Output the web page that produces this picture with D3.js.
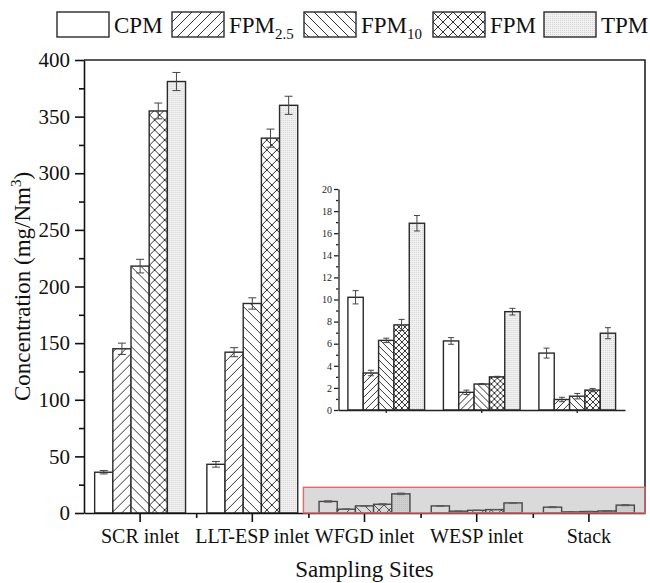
<!DOCTYPE html>
<html>
<head>
<meta charset="utf-8">
<script src="https://cdn.jsdelivr.net/npm/d3@7"></script>
<style>
  body { margin: 0; background: #fff; }
  svg text { font-family: "Liberation Serif", "Times New Roman", serif; }
</style>
</head>
<body>
<svg id="chart" width="650" height="583"></svg>
<script>
// data
const sites = ['SCR inlet', 'LLT-ESP inlet', 'WFGD inlet', 'WESP inlet', 'Stack'];
const series = ['CPM', 'FPM2.5', 'FPM10', 'FPM', 'TPM'];
const cpm   = [36, 43, 10.2, 6.25, 5.15];
const fpm25 = [145, 142, 3.35, 1.6, 0.95];
const fpm10 = [218, 185, 6.3, 2.35, 1.25];
const fpm   = [355, 331, 7.7, 3.0, 1.8];
const tpm   = [381, 360, 16.9, 8.9, 6.95];
const cpmErr   = [1.5, 2.5, 0.6, 0.3, 0.45];
const fpm25Err = [5, 4, 0.25, 0.2, 0.2];
const fpm10Err = [6, 5, 0.2, 0.05, 0.25];
const fpmErr   = [7, 8, 0.5, 0.05, 0.15];
const tpmErr   = [8, 8, 0.7, 0.3, 0.5];
const mainTicks = [0, 50, 100, 150, 200, 250, 300, 350, 400];
const insetTicks = [0, 2, 4, 6, 8, 10, 12, 14, 16, 18, 20];
const insetSites = sites.slice(2);

const values = [cpm, fpm25, fpm10, fpm, tpm];
const errors = [cpmErr, fpm25Err, fpm10Err, fpmErr, tpmErr];
const rows = sites.map((s, i) => ({
  site: s,
  bars: series.map((k, j) => ({ key: k, v: values[j][i], e: errors[j][i] }))
}));

const svg = d3.select('#chart');
const defs = svg.append('defs');

// fill patterns
function hatch(id, size, kinds) {
  const p = defs.append('pattern').attr('id', id)
    .attr('patternUnits', 'userSpaceOnUse')
    .attr('width', size).attr('height', size);
  p.append('rect').attr('width', size).attr('height', size).attr('fill', '#fff');
  const s = size;
  if (kinds.includes('f')) {
    p.append('path').attr('d', `M${-s/4},${s/4} l${s/2},${-s/2} M0,${s} l${s},${-s} M${s*0.75},${s*1.25} l${s/2},${-s/2}`)
      .attr('stroke', '#333').attr('stroke-width', 1);
  }
  if (kinds.includes('b')) {
    p.append('path').attr('d', `M${-s/4},${s*0.75} l${s/2},${s/2} M0,0 l${s},${s} M${s*0.75},${-s/4} l${s/2},${s/2}`)
      .attr('stroke', '#333').attr('stroke-width', 1);
  }
}
hatch('fwd', 10, 'f'); hatch('back', 10, 'b'); hatch('cross', 10, 'fb');
hatch('fwdS', 7, 'f'); hatch('backS', 7, 'b'); hatch('crossS', 6, 'fb');
const dots = defs.append('pattern').attr('id', 'dots')
  .attr('patternUnits', 'userSpaceOnUse').attr('width', 2).attr('height', 2);
dots.append('rect').attr('width', 2).attr('height', 2).attr('fill', '#f1f1f1');
dots.append('rect').attr('width', 1).attr('height', 1).attr('fill', '#d4d4d4');

const fillBig = { 'CPM': '#fff', 'FPM2.5': 'url(#fwd)', 'FPM10': 'url(#back)', 'FPM': 'url(#cross)', 'TPM': 'url(#dots)' };
const fillSmall = { 'CPM': '#fff', 'FPM2.5': 'url(#fwdS)', 'FPM10': 'url(#backS)', 'FPM': 'url(#crossS)', 'TPM': 'url(#dots)' };

// ---------- main chart ----------
const mL = 84, mR = 645, mT = 60, mB = 513;
const x0 = d3.scaleBand().domain(sites).range([mL, mR]).paddingInner(0.19).paddingOuter(0.095);
const x1 = d3.scaleBand().domain(series).range([0, x0.bandwidth()]);
const y = d3.scaleLinear().domain([0, 400]).range([mB, mT]);

function drawBars(g, data, xs, xb, ys, fills, cap) {
  const grp = g.selectAll('g.site').data(data).join('g')
    .attr('class', 'site')
    .attr('transform', d => `translate(${xs(d.site)},0)`);
  grp.selectAll('rect').data(d => d.bars).join('rect')
    .attr('x', d => xb(d.key))
    .attr('y', d => ys(d.v))
    .attr('width', xb.bandwidth())
    .attr('height', d => ys(0) - ys(d.v))
    .attr('fill', d => fills[d.key])
    .attr('stroke', '#2a2a2a').attr('stroke-width', 1.4);
  const eb = grp.selectAll('g.err').data(d => d.bars.filter(b => b.e > 0)).join('g')
    .attr('class', 'err')
    .attr('stroke', '#444').attr('stroke-width', 1);
  const cx = d => xb(d.key) + xb.bandwidth() / 2;
  eb.append('line').attr('x1', cx).attr('x2', cx)
    .attr('y1', d => ys(d.v - d.e)).attr('y2', d => ys(d.v + d.e));
  eb.append('line').attr('x1', d => cx(d) - cap).attr('x2', d => cx(d) + cap)
    .attr('y1', d => ys(d.v + d.e)).attr('y2', d => ys(d.v + d.e));
  eb.append('line').attr('x1', d => cx(d) - cap).attr('x2', d => cx(d) + cap)
    .attr('y1', d => ys(d.v - d.e)).attr('y2', d => ys(d.v - d.e));
}

drawBars(svg.append('g'), rows, x0, x1, y, fillBig, 4);

// frame top & right
svg.append('path')
  .attr('d', `M${mL},${mT} H${mR} V${mB}`)
  .attr('fill', 'none').attr('stroke', '#222').attr('stroke-width', 1.6);

// y axis
const yAxisG = svg.append('g').attr('transform', `translate(${mL},0)`);
yAxisG.append('g')
  .call(d3.axisLeft(y).tickValues(d3.range(25, 400, 50)).tickSize(5).tickFormat(''))
  .call(g => g.select('.domain').remove());
yAxisG.append('g')
  .call(d3.axisLeft(y).tickValues(mainTicks).tickSize(9).tickSizeOuter(0).tickPadding(5))
  .call(g => g.selectAll('text').attr('font-size', 21).attr('fill', '#111'));
yAxisG.selectAll('line, path').attr('stroke', '#111').attr('stroke-width', 1.6);

// x axis
const xAxisG = svg.append('g').attr('transform', `translate(0,${mB})`);
const bounds = d3.range(1, sites.length).map(i => x0(sites[i]) - x0.step() * x0.paddingInner() / 2);
xAxisG.append('g')
  .call(d3.axisBottom(d3.scaleLinear().range([mL, mR]).domain([mL, mR]))
    .tickValues(bounds).tickSize(5).tickFormat(''))
  .call(g => g.select('.domain').remove());
xAxisG.append('g')
  .call(d3.axisBottom(x0).tickSize(9).tickSizeOuter(0).tickPadding(7))
  .call(g => g.selectAll('text').attr('font-size', 20).attr('fill', '#111'));
xAxisG.selectAll('line, path').attr('stroke', '#111').attr('stroke-width', 1.6);

// highlight box over the small bars
const boxX0 = bounds[1] - 5;
svg.append('rect')
  .attr('x', boxX0).attr('y', y(22.7))
  .attr('width', mR - boxX0).attr('height', y(0) - y(22.7))
  .attr('fill', 'rgba(140,140,140,0.32)')
  .attr('stroke', '#e26a6a').attr('stroke-width', 1.4);

// axis titles
svg.append('text')
  .attr('x', (mL + mR) / 2).attr('y', 577)
  .attr('text-anchor', 'middle').attr('font-size', 23).attr('fill', '#111')
  .text('Sampling Sites');
const yt = svg.append('text')
  .attr('transform', `translate(30,${(mT + mB) / 2}) rotate(-90)`)
  .attr('text-anchor', 'middle').attr('font-size', 23).attr('fill', '#111');
yt.append('tspan').text('Concentration (mg/Nm');
yt.append('tspan').attr('font-size', 15).attr('dy', -9).text('3');
yt.append('tspan').attr('dy', 9).text(')');

// ---------- inset ----------
const iL = 338.5, iR = 625, iT = 189, iB = 410;
const ix0 = d3.scaleBand().domain(insetSites).range([iL, iR]).paddingInner(0.197).paddingOuter(0.0985);
const ix1 = d3.scaleBand().domain(series).range([0, ix0.bandwidth()]);
const iy = d3.scaleLinear().domain([0, 20]).range([iB, iT]);

const inset = svg.append('g');
drawBars(inset, rows.slice(2), ix0, ix1, iy, fillSmall, 3);

const iyG = inset.append('g').attr('transform', `translate(${iL},0)`);
iyG.append('g')
  .call(d3.axisLeft(iy).tickValues(d3.range(1, 20, 2)).tickSize(2.5).tickFormat(''))
  .call(g => g.select('.domain').remove());
iyG.append('g')
  .call(d3.axisLeft(iy).tickValues(insetTicks).tickSize(4.5).tickSizeOuter(0).tickPadding(2))
  .call(g => g.selectAll('text').attr('font-size', 10).attr('fill', '#222'));
iyG.selectAll('line, path').attr('stroke', '#222').attr('stroke-width', 1.3);

const ixG = inset.append('g').attr('transform', `translate(0,${iB})`);
ixG.call(d3.axisBottom(ix0).tickSize(3).tickSizeOuter(0).tickFormat(''));
ixG.selectAll('line, path').attr('stroke', '#222').attr('stroke-width', 1.3);

// ---------- legend ----------
const legendX = [57, 172, 304, 433, 544];
const legendLabels = [['CPM', ''], ['FPM', '2.5'], ['FPM', '10'], ['FPM', ''], ['TPM', '']];
const legend = svg.append('g').attr('transform', 'translate(0,12)');
series.forEach((k, i) => {
  const g = legend.append('g').attr('transform', `translate(${legendX[i]},0)`);
  g.append('rect').attr('width', 52).attr('height', 25)
    .attr('fill', fillBig[k]).attr('stroke', '#2a2a2a').attr('stroke-width', 1.4);
  const t = g.append('text').attr('x', 57).attr('y', 21)
    .attr('font-size', 23).attr('fill', '#111');
  t.append('tspan').text(legendLabels[i][0]);
  if (legendLabels[i][1]) {
    t.append('tspan').attr('font-size', 15).attr('dy', 6).text(legendLabels[i][1]);
  }
});

// serif everywhere, overriding the axis default
svg.selectAll('text').style('font-family', '"Liberation Serif", "Times New Roman", serif');
</script>
</body>
</html>
